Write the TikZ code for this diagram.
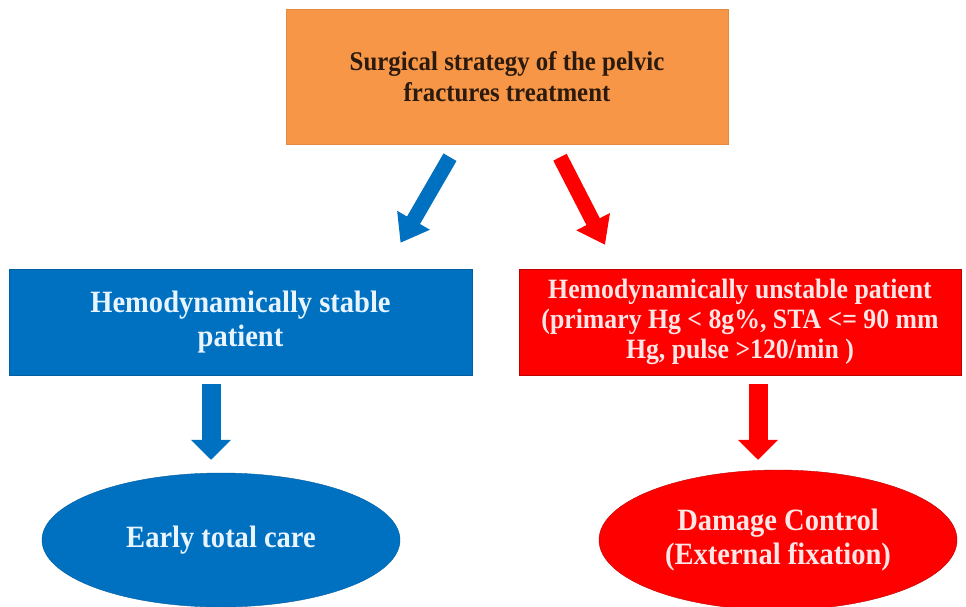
\documentclass[tikz,border=0pt]{standalone}
\usepackage{fontspec}
\setmainfont[FakeStretch=0.92]{Liberation Serif}
\usetikzlibrary{arrows.meta,shapes.geometric}

\definecolor{orangefill}{HTML}{F79646}
\definecolor{bluefill}{HTML}{0070C0}
\definecolor{redfill}{HTML}{FF0000}
\definecolor{darktext}{HTML}{2B1A0E}
\definecolor{bluetext}{HTML}{E8F4FF}
\definecolor{redtext}{HTML}{FFE6E6}

\tikzset{
  topbox/.style={rectangle, fill=orangefill, draw=orangefill!92!black, inner sep=0pt,
    minimum width=442pt, minimum height=135pt, align=center, text=darktext,
    font=\bfseries\fontsize{27}{31}\selectfont},
  stablebox/.style={rectangle, fill=bluefill, draw=bluefill!85!black, inner sep=0pt,
    minimum width=463pt, minimum height=106pt, align=center, text=bluetext,
    font=\bfseries\fontsize{31}{34}\selectfont},
  unstablebox/.style={rectangle, fill=redfill, draw=redfill!75!black, inner sep=0pt,
    minimum width=442pt, minimum height=106pt, align=center, text=redtext,
    font=\bfseries\fontsize{28}{30}\selectfont},
  outcome/.style={ellipse, inner sep=0pt, minimum width=358pt, align=center,
    font=\bfseries\fontsize{31}{34}\selectfont},
  slantarrow/.style={line width=15pt, -{Triangle[width=36pt,length=26pt]}},
  downarrow/.style={line width=19pt, -{Triangle[width=39pt,length=20pt]}}
}

\begin{document}
\begin{tikzpicture}[x=1pt,y=-1pt]
   \useasboundingbox[fill=white] (0,0) rectangle (966,607);
   % boxes
   \node[topbox] (top) at (507,76.5) {Surgical strategy of the pelvic\\fractures treatment};
   \node[stablebox] (stable) at (240.5,322) {Hemodynamically stable\\patient};
   \node[unstablebox] (unstable) at (740,322) {Hemodynamically unstable patient\\(primary Hg < 8g\%, STA <= 90 mm\\Hg, pulse >120/min )};
   \node[outcome, fill=bluefill, draw=bluefill!85!black, text=bluetext, minimum height=134pt] (early) at (221,540) {Early total care};
   \node[outcome, fill=redfill, draw=redfill!75!black, text=redtext, minimum height=140pt] (damage) at (778,540) {Damage Control\\(External fixation)};
   % arrows
   \draw[slantarrow, bluefill] ([xshift=-57pt,yshift=-13pt]top.south) -- ([xshift=160pt,yshift=26pt]stable.north);
   \draw[slantarrow, redfill] ([xshift=53pt,yshift=-13pt]top.south) -- ([xshift=-135pt,yshift=24pt]unstable.north);
   \draw[downarrow, bluefill] ([xshift=-29.5pt,yshift=-9pt]stable.south) -- ([xshift=-10pt,yshift=13pt]early.north);
   \draw[downarrow, redfill] ([xshift=18pt,yshift=-9pt]unstable.south) -- ([xshift=-20pt,yshift=10pt]damage.north);
\end{tikzpicture}
\end{document}
